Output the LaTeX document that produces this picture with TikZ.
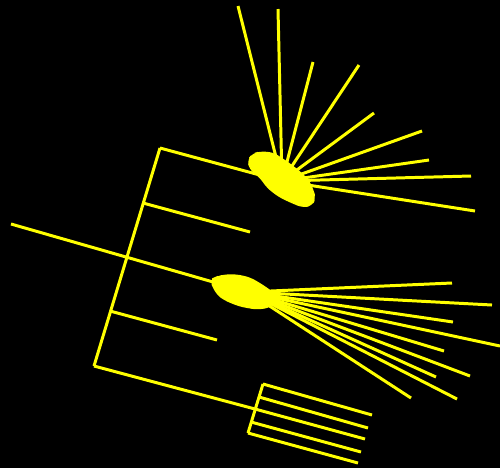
\documentclass[tikz,border=0pt]{standalone}
\usepackage{tikz}
\definecolor{twigyellow}{RGB}{255,255,0}
\tikzset{
  twig/.style={draw=twigyellow, line width=1.7pt},
  blob/.style={fill=twigyellow, draw=twigyellow, line width=0.8pt, rounded corners=3pt},
}

\begin{document}
\begin{tikzpicture}[x=0.02cm,y=-0.02cm]
  \fill[black] (0,0) rectangle (500,468);
  \useasboundingbox (0,0) rectangle (500,468);
  % main spine and its joints
  \coordinate (root) at (11,224);
  \coordinate (sTop) at (160,148);
  \coordinate (sTwo) at (143,203);
  \coordinate (sMid) at (126,257);
  \coordinate (sFour) at (110,311);
  \coordinate (sBot) at (94,366);
  \coordinate (hubA) at (282,181);
  \coordinate (hubB) at (248,292);
  \coordinate (leafTwo) at (250,232);
  \coordinate (leafFour) at (217,340);
  % small spine
  \coordinate (tTop) at (263,384);
  \coordinate (tTwo) at (259,397);
  \coordinate (tMid) at (255,409);
  \coordinate (tFour) at (251,422);
  \coordinate (tBot) at (248,433);

  \draw[twig] (sTop) -- (sBot);
  \draw[twig] (sTop) -- (hubA);
  \draw[twig] (sTwo) -- (leafTwo);
  \draw[twig] (root) -- (hubB);
  \draw[twig] (sFour) -- (leafFour);
  \draw[twig] (sBot) -- (tMid);
  \draw[twig] (tTop) -- (tBot);
  \foreach \s/\e in {tTop/{372,415}, tTwo/{368,428}, tMid/{365,439}, tFour/{361,452}, tBot/{358,463}}
    \draw[twig] (\s) -- (\e);

  % rays of the upper tuft
  \foreach \e in {{238,6},{278,9},{313,62},{359,65},{374,113},{422,131},{429,160},{471,176},{475,211}}
    \draw[twig] (hubA) -- (\e);
  % rays of the lower tuft
  \foreach \e in {{452,283},{492,305},{453,322},{500,346},{444,351},{470,376},{436,377},{457,399},{411,398}}
    \draw[twig] (hubB) -- (\e);

  % tufts
  \filldraw[blob] (248,160) -- (253,154) -- (260,152) -- (273,153) -- (287,162) -- (300,172) -- (308,180) -- (313,190) -- (315,198) -- (312,205) -- (303,207) -- (293,203) -- (280,197) -- (268,188) -- (260,177) -- (250,169) -- cycle;
  \filldraw[blob] (210,280) -- (217,277) -- (225,275) -- (237,275) -- (250,278) -- (262,285) -- (272,292) -- (277,299) -- (270,307) -- (257,309) -- (240,306) -- (225,300) -- (217,294) -- cycle;
\end{tikzpicture}
\end{document}
